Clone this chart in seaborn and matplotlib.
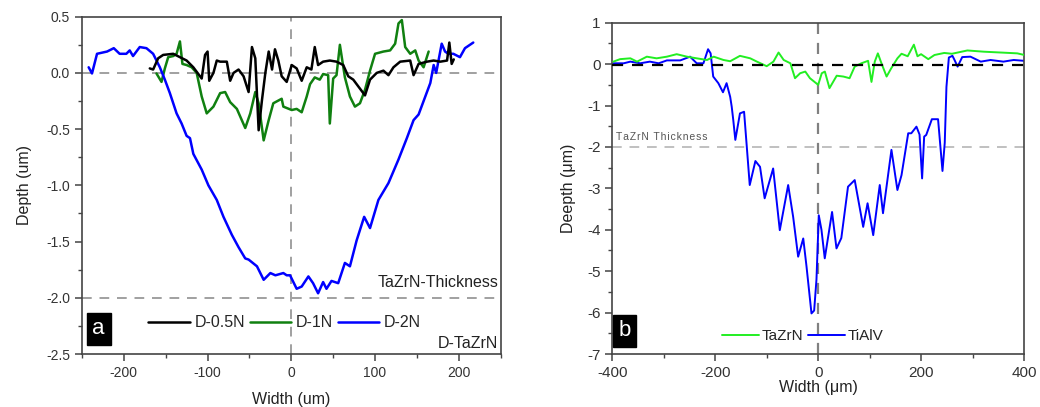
import matplotlib
matplotlib.use("Agg")
import matplotlib.pyplot as plt
import seaborn as sns
import numpy as np
from matplotlib.ticker import MultipleLocator, FixedLocator

# ---------------- Panel a data ----------------
a_x_05N = [-169,-165,-159,-153,-141,-133,-125,-117,-111,-107,-103,-100,-98,-93,-89,-85,-77,-73,-69,-63,-57,-51,-47,-43,-39,-35,-31,-27,-23,-19.5,-15.5,-11.5,-5.5,0.5,6.4,12.4,18.4,24,28,32,38,46,54,62,68,74,82,88,94,102,110,116,122,130,142,146,152,162,170,178,186,188.7,191.5,194]
a_y_05N = [0.04,0.03,0.13,0.16,0.17,0.14,0.11,0.05,-0.01,-0.05,0.16,0.19,-0.07,0.0,0.11,0.10,0.10,-0.07,0.0,0.03,-0.03,-0.17,0.23,0.13,-0.51,-0.24,0.0,0.19,0.03,0.21,0.11,-0.03,-0.08,0.07,0.04,-0.07,0.05,0.03,0.23,0.07,0.10,0.11,0.10,0.07,-0.03,-0.06,-0.14,-0.20,-0.06,0.0,0.02,-0.02,0.05,0.10,0.11,-0.02,0.08,0.10,0.11,0.10,0.11,0.27,0.08,0.12]

a_x_1N = [-161,-155,-151,-147,-141,-137,-133,-130,-125,-119,-113,-107,-101,-93,-85,-79,-73,-65,-55,-49,-43,-39,-33,-27,-21.5,-11.5,-9.5,0.5,6.4,12.4,18.4,22.4,28,34,38,44,46,50,54,58,64,70,76,82,88,94,100,110,118,124,128,132,136,142,148,152,158,164]
a_y_1N = [-0.005,-0.08,0.04,0.14,0.15,0.17,0.28,0.08,0.07,0.05,0.0,-0.21,-0.36,-0.30,-0.18,-0.17,-0.26,-0.32,-0.49,-0.36,-0.17,-0.27,-0.60,-0.42,-0.27,-0.23,-0.30,-0.33,-0.32,-0.35,-0.21,-0.10,-0.04,-0.06,-0.01,-0.02,-0.45,-0.05,-0.02,0.25,-0.04,-0.21,-0.30,-0.27,-0.15,0.02,0.17,0.19,0.20,0.26,0.44,0.47,0.23,0.17,0.20,0.11,0.05,0.19]

a_x_2N = [-242,-238,-232,-220,-212,-205,-197,-193,-189,-181,-173,-165,-157,-151,-145,-137,-131,-125,-121,-117,-107,-99,-89,-81,-71,-63,-55,-51,-41,-33,-25,-19,-9.5,-5.5,-1.5,6.4,12.4,20.4,26,32,38,42,48,56,64,70,78,87,94,104,116,128,138,146,152,160,166,170,173,179.6,183.6,187.5,193.5,201.4,207.4,217.3]
a_y_2N = [0.05,-0.005,0.17,0.19,0.22,0.17,0.17,0.2,0.15,0.23,0.22,0.17,0.05,-0.06,-0.18,-0.36,-0.45,-0.56,-0.58,-0.72,-0.86,-1.0,-1.13,-1.28,-1.44,-1.55,-1.65,-1.66,-1.72,-1.84,-1.78,-1.80,-1.78,-1.80,-1.80,-1.92,-1.90,-1.81,-1.87,-1.96,-1.86,-1.92,-1.85,-1.87,-1.69,-1.72,-1.49,-1.28,-1.38,-1.13,-0.98,-0.77,-0.58,-0.42,-0.37,-0.21,-0.09,0.07,0.0,0.26,0.19,0.17,0.17,0.14,0.22,0.27]

a_labels = ["D-0.5N", "D-1N", "D-2N"]
a_yticklabels = ["0.5", "0.0", "-0.5", "-1.0", "-1.5", "-2.0", "-2.5"]

# ---------------- Panel b data ----------------
b_x_TaZrN = [-398,-385,-365,-352,-333,-314,-294,-275,-255,-236,-216,-203,-184,-171,-152,-132,-119,-100,-87,-77,-67,-54,-45,-35,-25,-16,0,7,13,22,36,49,61,71,84,97,103.6,110,116,123,133,142,154,162,174,186,193,200,214,226,245,260,290,322,355,387,401]
b_y_TaZrN = [0.06,0.12,0.14,0.06,0.18,0.14,0.18,0.24,0.18,0.14,0.10,0.18,0.10,0.07,0.20,0.14,0.06,-0.05,0.06,0.28,0.10,0.02,-0.34,-0.22,-0.18,-0.34,-0.50,-0.22,-0.18,-0.58,-0.28,-0.30,-0.34,-0.06,0.02,0.08,-0.43,0.06,0.26,0.02,-0.30,-0.10,0.14,0.25,0.19,0.47,0.19,0.24,0.12,0.22,0.27,0.25,0.33,0.30,0.28,0.26,0.22]

b_x_TiAlV = [-398,-378,-365,-346,-327,-310,-294,-268,-249,-236,-223,-214,-209,-204,-194,-185,-178,-171,-168,-165,-161,-152,-144,-139,-133,-122,-113,-104,-87.5,-74.6,-58.3,-48.6,-38.9,-29,-22.7,-13,-7.8,-3.3,1.2,6.4,12.8,27,35.6,45,58,71,78,87.5,96,107,119.7,126,142.4,154,162,175,181,191,197,202,206,210,221,233,241.6,246,249.3,254,261,265,271,280,296,316,335,360,380,400]
b_y_TiAlV = [0.02,0.02,0.06,0.02,0.06,0.02,0.09,0.09,0.18,0.02,0.02,0.36,0.26,-0.30,-0.46,-0.68,-0.46,-0.79,-1.03,-1.35,-1.83,-1.19,-1.15,-1.95,-2.92,-2.34,-2.48,-3.24,-2.52,-4.01,-2.92,-3.69,-4.65,-4.21,-4.88,-6.02,-5.95,-5.2,-3.65,-4.0,-4.69,-3.57,-4.45,-4.2,-2.96,-2.8,-3.28,-3.93,-3.36,-4.13,-2.92,-3.6,-2.07,-3.04,-2.68,-1.67,-1.67,-1.51,-1.7,-2.76,-1.75,-1.71,-1.33,-1.33,-2.58,-1.9,-0.55,0.16,0.20,0.10,-0.06,0.17,0.18,0.06,0.10,0.06,0.10,0.08]

b_labels = ["TaZrN", "TiAlV"]
b_yticks = [1, 0, -1, -2, -3, -4, -5, -6, -7]

# ---------------- Style ----------------
sns.set_style("ticks")
plt.rcParams["font.family"] = ["Liberation Sans", "DejaVu Sans"]
plt.rcParams["axes.unicode_minus"] = False

spine_col = "#444444"
text_col = "#222222"

fig = plt.figure(figsize=(10.4, 4.07), dpi=100)
ax1 = fig.add_axes([0.0788, 0.1302, 0.4026, 0.8288])
ax2 = fig.add_axes([0.5888, 0.1302, 0.3958, 0.8140])

def style_axes(ax, fs):
    for s in ax.spines.values():
        s.set_color(spine_col)
        s.set_linewidth(1.2)
    ax.tick_params(which="both", direction="out", color=spine_col,
                   labelcolor="#333333", labelsize=fs, top=False, right=False)
    ax.tick_params(which="major", length=5, width=1.1)
    ax.tick_params(which="minor", length=3, width=1.0)

# ---------------- Panel a ----------------
ax = ax1
ax.axhline(0, color="#a0a0a0", lw=1.4, ls=(0, (5, 4)), zorder=1)
ax.axhline(-2, color="#a0a0a0", lw=1.4, ls=(0, (5, 4)), zorder=1)
ax.axvline(0, color="#a0a0a0", lw=1.4, ls=(0, (5, 4)), zorder=1)
sns.lineplot(x=a_x_05N, y=a_y_05N, ax=ax, color="black", lw=1.8, sort=False, estimator=None, label=a_labels[0], zorder=3)
sns.lineplot(x=a_x_1N, y=a_y_1N, ax=ax, color="#108010", lw=1.8, sort=False, estimator=None, label=a_labels[1], zorder=2)
sns.lineplot(x=a_x_2N, y=a_y_2N, ax=ax, color="#0000ff", lw=1.8, sort=False, estimator=None, label=a_labels[2], zorder=2)
ax.set_xlim(-250, 250)
ax.set_ylim(-2.5, 0.5)
ax.xaxis.set_major_locator(MultipleLocator(100))
ax.xaxis.set_minor_locator(MultipleLocator(50))
ax.yaxis.set_major_locator(FixedLocator([0.5, 0.0, -0.5, -1.0, -1.5, -2.0, -2.5]))
ax.set_yticklabels(a_yticklabels)
ax.yaxis.set_minor_locator(MultipleLocator(0.25))
style_axes(ax, 10)
ax.set_xlabel("Width (um)", fontsize=11.5, color=text_col, labelpad=9)
ax.set_ylabel("Depth (um)", fontsize=11.5, color=text_col, labelpad=10)
ax.text(247, -1.93, "TaZrN-Thickness", ha="right", va="bottom", fontsize=11.5, color=text_col)
ax.text(247, -2.47, "D-TaZrN", ha="right", va="bottom", fontsize=11.5, color=text_col)
ax.text(0.04, 0.075, "a", transform=ax.transAxes, ha="center", va="center", fontsize=16, color="white",
        bbox=dict(boxstyle="square,pad=0.25", fc="black", ec="black"))
ax.legend(loc="center", bbox_to_anchor=(0.484, 0.092), ncol=3, frameon=False, fontsize=11.5,
          handlelength=2.6, handletextpad=0.3, columnspacing=0.3, borderaxespad=0)

# ---------------- Panel b ----------------
ax = ax2
ax.axhline(-2, color="#c0c0c0", lw=1.4, ls=(0, (5, 4)), zorder=1)
ax.axvline(0, color="#808080", lw=1.6, ls=(0, (5, 4)), zorder=1)
ax.axhline(-0.03, color="black", lw=1.6, ls=(0, (5, 4)), zorder=4)
sns.lineplot(x=b_x_TaZrN, y=b_y_TaZrN, ax=ax, color="#22ee22", lw=1.4, sort=False, estimator=None, label=b_labels[0], zorder=3)
sns.lineplot(x=b_x_TiAlV, y=b_y_TiAlV, ax=ax, color="#0000ff", lw=1.4, sort=False, estimator=None, label=b_labels[1], zorder=2)
ax.set_xlim(-400, 400)
ax.set_ylim(-7, 1)
ax.xaxis.set_major_locator(MultipleLocator(200))
ax.xaxis.set_minor_locator(MultipleLocator(100))
ax.yaxis.set_major_locator(FixedLocator(b_yticks))
ax.yaxis.set_minor_locator(MultipleLocator(0.5))
style_axes(ax, 11)
ax.set_xlabel("Width (\u03bcm)", fontsize=11.5, color=text_col, labelpad=0)
ax.set_ylabel("Deepth (\u03bcm)", fontsize=11.5, color=text_col, labelpad=8)
ax.text(-393, -1.83, "\u200a".join("TaZrN Thickness"), ha="left", va="baseline", fontsize=7.5, color="#555555")
ax.text(0.03, 0.07, "b", transform=ax.transAxes, ha="center", va="center", fontsize=16, color="white",
        bbox=dict(boxstyle="square,pad=0.25", fc="black", ec="black"))
ax.legend(loc="center", bbox_to_anchor=(0.463, 0.054), ncol=2, frameon=False, fontsize=11,
          handlelength=2.4, handletextpad=0.2, columnspacing=0.3, borderaxespad=0)

fig.savefig("out.png", dpi=100)
